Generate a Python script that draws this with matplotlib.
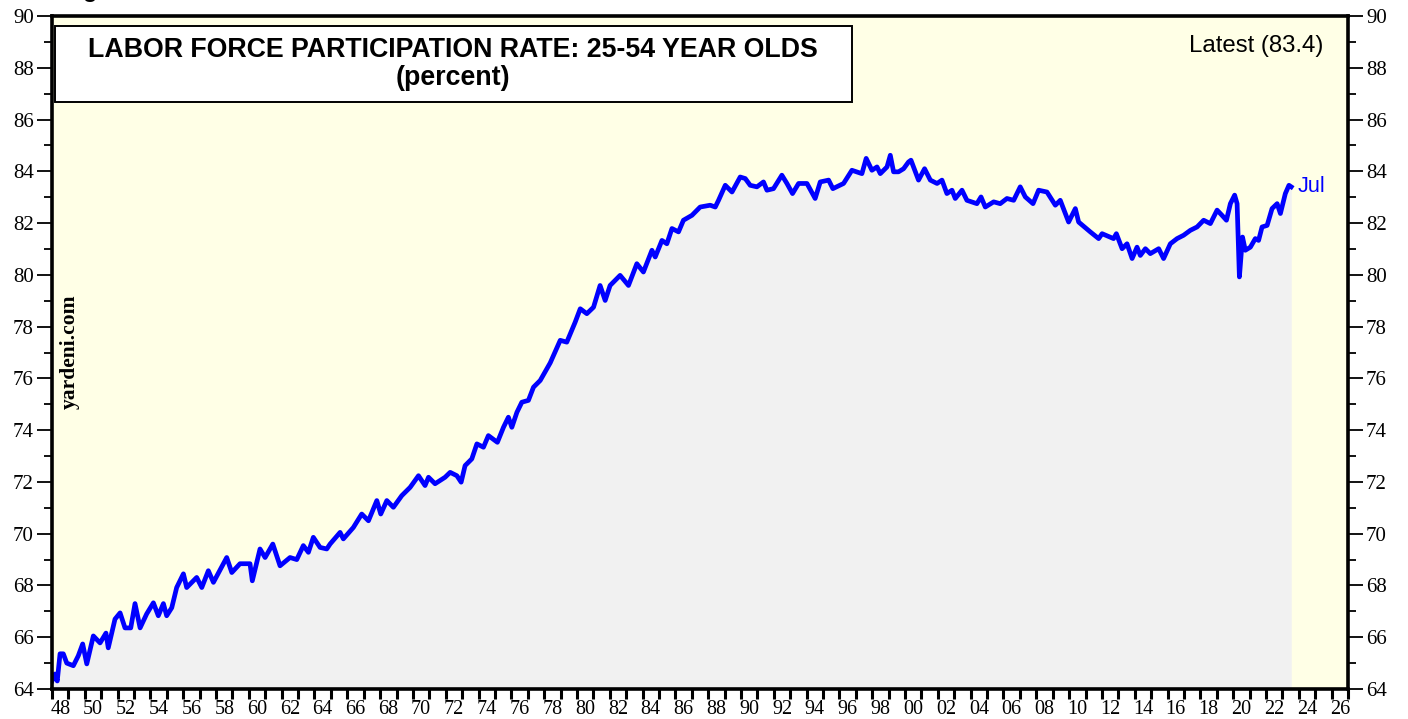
import matplotlib
matplotlib.use("Agg")
import matplotlib.pyplot as plt
from matplotlib.patches import Rectangle
from matplotlib.ticker import FixedLocator, MultipleLocator

# Labor force participation rate, 25-54 year olds (percent)
years = [
    1948.00, 1948.18, 1948.32, 1948.49, 1948.69, 1948.90, 1949.30, 1949.60, 1949.87, 1950.12,
    1950.52, 1950.93, 1951.29, 1951.43, 1951.84, 1952.15, 1952.45, 1952.80, 1953.06, 1953.37,
    1953.77, 1954.18, 1954.48, 1954.79, 1954.99, 1955.30, 1955.60, 1956.01, 1956.21, 1956.82,
    1957.13, 1957.53, 1957.84, 1958.65, 1958.96, 1959.46, 1960.07, 1960.21, 1960.68, 1960.99,
    1961.46, 1961.90, 1962.51, 1962.92, 1963.32, 1963.63, 1963.93, 1964.34, 1964.75, 1964.95,
    1965.56, 1965.76, 1966.37, 1966.88, 1967.29, 1967.80, 1968.04, 1968.41, 1968.81, 1969.32,
    1969.83, 1970.34, 1970.74, 1970.95, 1971.35, 1971.96, 1972.27, 1972.68, 1972.94, 1973.18,
    1973.59, 1973.90, 1974.30, 1974.60, 1975.15, 1975.52, 1975.82, 1976.03, 1976.34, 1976.64,
    1977.04, 1977.35, 1977.76, 1978.37, 1978.98, 1979.38, 1979.89, 1980.20, 1980.60, 1981.01,
    1981.41, 1981.72, 1982.02, 1982.63, 1983.14, 1983.65, 1984.05, 1984.57, 1984.77, 1985.18,
    1985.48, 1985.79, 1986.19, 1986.49, 1987.01, 1987.51, 1988.12, 1988.43, 1988.63, 1989.04,
    1989.45, 1989.95, 1990.26, 1990.56, 1990.97, 1991.37, 1991.58, 1991.98, 1992.49, 1992.80,
    1993.14, 1993.51, 1994.02, 1994.52, 1994.83, 1995.34, 1995.60, 1996.25, 1996.76, 1997.37,
    1997.63, 1997.98, 1998.29, 1998.49, 1998.90, 1999.10, 1999.30, 1999.60, 1999.91, 2000.21,
    2000.36, 2000.82, 2001.19, 2001.54, 2001.95, 2002.25, 2002.55, 2002.86, 2003.06, 2003.47,
    2003.77, 2004.38, 2004.63, 2004.89, 2005.40, 2005.80, 2006.21, 2006.62, 2007.02, 2007.33,
    2007.80, 2008.14, 2008.65, 2009.16, 2009.46, 2009.97, 2010.38, 2010.58, 2011.29, 2011.80,
    2012.01, 2012.71, 2012.88, 2013.23, 2013.53, 2013.84, 2014.14, 2014.34, 2014.65, 2014.95,
    2015.46, 2015.76, 2016.17, 2016.58, 2016.98, 2017.39, 2017.80, 2018.20, 2018.61, 2019.02,
    2019.32, 2019.59, 2019.83, 2020.09, 2020.24, 2020.38, 2020.57, 2020.74, 2021.05, 2021.35,
    2021.55, 2021.76, 2022.07, 2022.37, 2022.68, 2022.88, 2023.18, 2023.40, 2023.54,
]
lfpr = [
    64.31, 64.58, 64.31, 65.36, 65.36, 65.00, 64.90, 65.28, 65.74, 64.97,
    66.05, 65.78, 66.16, 65.59, 66.70, 66.94, 66.36, 66.36, 67.30, 66.36,
    66.90, 67.33, 66.83, 67.30, 66.83, 67.14, 67.92, 68.45, 67.92, 68.31,
    67.92, 68.57, 68.12, 69.08, 68.50, 68.84, 68.84, 68.18, 69.41, 69.08,
    69.60, 68.76, 69.08, 69.00, 69.54, 69.28, 69.86, 69.47, 69.41, 69.60,
    70.05, 69.80, 70.24, 70.76, 70.50, 71.28, 70.76, 71.28, 71.02, 71.47,
    71.79, 72.24, 71.86, 72.18, 71.93, 72.18, 72.37, 72.24, 71.99, 72.63,
    72.89, 73.47, 73.34, 73.79, 73.53, 74.11, 74.50, 74.11, 74.69, 75.08,
    75.15, 75.66, 75.92, 76.60, 77.47, 77.40, 78.17, 78.69, 78.50, 78.75,
    79.59, 79.01, 79.59, 79.98, 79.59, 80.43, 80.11, 80.95, 80.69, 81.33,
    81.20, 81.79, 81.66, 82.11, 82.30, 82.62, 82.69, 82.62, 82.88, 83.46,
    83.20, 83.78, 83.72, 83.46, 83.40, 83.59, 83.27, 83.33, 83.85, 83.53,
    83.14, 83.53, 83.53, 82.95, 83.59, 83.66, 83.33, 83.53, 84.04, 83.91,
    84.50, 84.04, 84.17, 83.91, 84.17, 84.62, 83.98, 83.98, 84.10, 84.36,
    84.43, 83.66, 84.10, 83.66, 83.53, 83.66, 83.14, 83.27, 82.95, 83.27,
    82.88, 82.75, 83.01, 82.62, 82.82, 82.75, 82.95, 82.88, 83.40, 83.01,
    82.75, 83.27, 83.20, 82.69, 82.88, 82.04, 82.56, 82.04, 81.66, 81.40,
    81.59, 81.40, 81.59, 81.01, 81.20, 80.63, 81.07, 80.75, 81.01, 80.82,
    81.01, 80.63, 81.20, 81.40, 81.53, 81.72, 81.85, 82.11, 81.98, 82.50,
    82.30, 82.11, 82.75, 83.08, 82.75, 79.92, 81.46, 80.95, 81.07, 81.40,
    81.33, 81.85, 81.91, 82.56, 82.75, 82.37, 83.14, 83.46, 83.40,
]
x_labels = ["48", "50", "52", "54", "56", "58", "60", "62", "64", "66", "68", "70",
            "72", "74", "76", "78", "80", "82", "84", "86", "88", "90", "92", "94",
            "96", "98", "00", "02", "04", "06", "08", "10", "12", "14", "16", "18",
            "20", "22", "24", "26"]
latest = 83.4

fig = plt.figure(figsize=(14.08, 7.19), dpi=100)
ax = fig.add_axes([52 / 1408, 30 / 719, 1296 / 1408, 673 / 719])
ax.set_facecolor("#FFFFE6")

ax.fill_between(years, lfpr, 64, color="#F1F1F1", linewidth=0, zorder=1)
ax.plot(years, lfpr, color="#0000FF", linewidth=3.4, solid_joinstyle="round", zorder=3)

ax.set_xlim(1948, 2027)
ax.set_ylim(64, 90)

# y axis: labels both sides, serif
ax.yaxis.set_major_locator(MultipleLocator(2))
ax.yaxis.set_minor_locator(MultipleLocator(1))
ax.tick_params(axis="y", which="both", left=True, right=True, labelleft=True, labelright=True,
               direction="out", width=1.3, labelsize=15, pad=2)
ax.tick_params(axis="y", which="major", length=11)
ax.tick_params(axis="y", which="minor", length=6)

# x axis: a tick at every year boundary, labels at mid-year of even years
ax.xaxis.set_minor_locator(MultipleLocator(1))
ax.xaxis.set_major_locator(FixedLocator([1948.5 + 2 * i for i in range(len(x_labels))]))
ax.set_xticklabels(x_labels)
ax.tick_params(axis="x", which="major", length=0, labelsize=14.5, pad=8)
ax.tick_params(axis="x", which="minor", length=7, width=2.2, direction="out")

for lab in ax.get_xticklabels():
    lab.set_fontfamily("Liberation Serif")
for t in ax.yaxis.get_major_ticks():
    t.label1.set_fontfamily("Liberation Serif")
    t.label2.set_fontfamily("Liberation Serif")

for s in ax.spines.values():
    s.set_linewidth(2.6)
    s.set_zorder(5)

# title box
ax.add_patch(Rectangle((3 / 1296, (689 - 102) / 673), (852 - 55) / 1296, 76 / 673,
                       transform=ax.transAxes, facecolor="white", edgecolor="black",
                       linewidth=1.4, zorder=6))
ax.text((453 - 52) / 1296, (689 - 50) / 673,
        "LABOR FORCE PARTICIPATION RATE: 25-54 YEAR OLDS", transform=ax.transAxes,
        ha="center", va="center", fontsize=19.3, fontweight="bold",
        fontfamily="Liberation Sans", zorder=7)
ax.text((453 - 52) / 1296, (689 - 78) / 673, "(percent)", transform=ax.transAxes,
        ha="center", va="center", fontsize=19.3, fontweight="bold",
        fontfamily="Liberation Sans", zorder=7)

ax.text((1323 - 52) / 1296, (689 - 46) / 673, f"Latest ({latest})", transform=ax.transAxes,
        ha="right", va="center", fontsize=17.3, fontfamily="Liberation Sans", zorder=7)

ax.text(years[-1] + 0.4, latest, "Jul", color="#0000FF", ha="left", va="center",
        fontsize=15.5, fontfamily="Liberation Sans", zorder=7)

ax.text((70 - 52) / 1296, (689 - 352) / 673, "yardeni.com", transform=ax.transAxes,
        rotation=90, ha="center", va="center", fontsize=15.5, fontweight="bold",
        fontfamily="Liberation Serif", zorder=7)

# figure caption cut off at the top edge, as in the source
fig.text(62 / 1408, 1 + 3 / 719, "Figure 1.", ha="left", va="baseline",
         fontsize=17, fontweight="bold", fontfamily="Liberation Sans")

fig.savefig("out.png", dpi=100)
